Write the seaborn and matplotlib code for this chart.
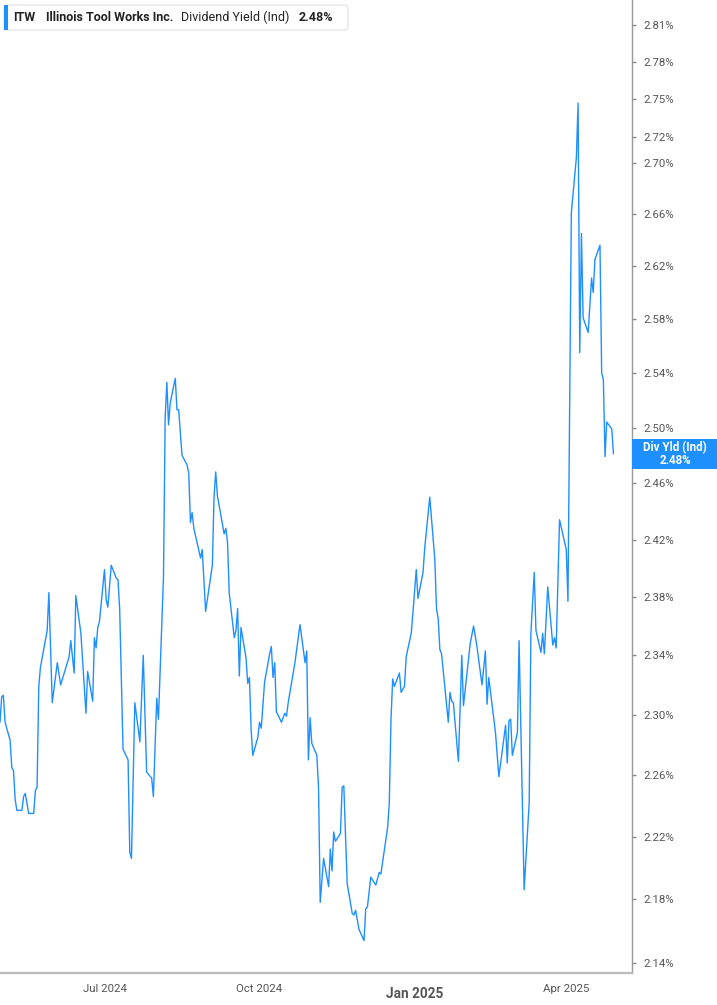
import matplotlib
matplotlib.use("Agg")
import matplotlib.pyplot as plt
import matplotlib.dates as mdates
from matplotlib.patches import Rectangle, FancyBboxPatch
from matplotlib.ticker import FixedLocator, FixedFormatter, NullLocator
import seaborn as sns
import pandas as pd

# ---------------- data ----------------
dates = [
    "2024-04-30", "2024-05-01", "2024-05-02", "2024-05-03", "2024-05-06", "2024-05-07", "2024-05-08",
    "2024-05-09", "2024-05-10", "2024-05-13", "2024-05-14", "2024-05-15", "2024-05-17", "2024-05-20",
    "2024-05-21", "2024-05-22", "2024-05-23", "2024-05-24", "2024-05-28", "2024-05-29", "2024-05-31",
    "2024-06-03", "2024-06-05", "2024-06-10", "2024-06-11", "2024-06-13", "2024-06-14", "2024-06-17",
    "2024-06-20", "2024-06-21", "2024-06-24", "2024-06-25", "2024-06-26", "2024-06-27", "2024-06-28",
    "2024-07-01", "2024-07-02", "2024-07-03", "2024-07-05", "2024-07-08", "2024-07-09", "2024-07-10",
    "2024-07-12", "2024-07-15", "2024-07-16", "2024-07-17", "2024-07-19", "2024-07-22", "2024-07-24",
    "2024-07-26", "2024-07-29", "2024-07-30", "2024-08-01", "2024-08-02", "2024-08-05", "2024-08-06",
    "2024-08-07", "2024-08-08", "2024-08-09", "2024-08-12", "2024-08-13", "2024-08-14", "2024-08-16",
    "2024-08-19", "2024-08-20", "2024-08-21", "2024-08-22", "2024-08-23", "2024-08-27", "2024-08-28",
    "2024-08-30", "2024-09-03", "2024-09-04", "2024-09-05", "2024-09-06", "2024-09-10", "2024-09-11",
    "2024-09-12", "2024-09-13", "2024-09-16", "2024-09-17", "2024-09-18", "2024-09-19", "2024-09-20",
    "2024-09-23", "2024-09-24", "2024-09-25", "2024-09-26", "2024-09-27", "2024-09-30", "2024-10-01",
    "2024-10-02", "2024-10-04", "2024-10-07", "2024-10-08", "2024-10-09", "2024-10-10", "2024-10-11",
    "2024-10-14", "2024-10-16", "2024-10-17", "2024-10-18", "2024-10-22", "2024-10-25", "2024-10-28",
    "2024-10-29", "2024-10-30", "2024-10-31", "2024-11-01", "2024-11-04", "2024-11-05", "2024-11-06",
    "2024-11-08", "2024-11-11", "2024-11-12", "2024-11-13", "2024-11-14", "2024-11-15", "2024-11-18",
    "2024-11-19", "2024-11-20", "2024-11-22", "2024-11-25", "2024-11-26", "2024-11-27", "2024-11-29",
    "2024-12-02", "2024-12-03", "2024-12-04", "2024-12-06", "2024-12-09", "2024-12-11", "2024-12-12",
    "2024-12-16", "2024-12-17", "2024-12-18", "2024-12-19", "2024-12-20", "2024-12-23", "2024-12-24",
    "2024-12-26", "2024-12-27", "2024-12-30", "2024-12-31", "2025-01-02", "2025-01-03", "2025-01-06",
    "2025-01-07", "2025-01-10", "2025-01-13", "2025-01-14", "2025-01-15", "2025-01-16", "2025-01-17",
    "2025-01-21", "2025-01-22", "2025-01-23", "2025-01-24", "2025-01-27", "2025-01-29", "2025-01-30",
    "2025-02-03", "2025-02-05", "2025-02-07", "2025-02-10", "2025-02-12", "2025-02-13", "2025-02-14",
    "2025-02-18", "2025-02-20", "2025-02-24", "2025-02-25", "2025-02-26", "2025-02-27", "2025-02-28",
    "2025-03-03", "2025-03-04", "2025-03-07", "2025-03-10", "2025-03-11", "2025-03-13", "2025-03-14",
    "2025-03-17", "2025-03-18", "2025-03-19", "2025-03-21", "2025-03-24", "2025-03-25", "2025-03-26",
    "2025-03-28", "2025-04-01", "2025-04-02", "2025-04-04", "2025-04-07", "2025-04-08", "2025-04-09",
    "2025-04-10", "2025-04-11", "2025-04-14", "2025-04-16", "2025-04-17", "2025-04-18", "2025-04-21",
    "2025-04-22", "2025-04-23", "2025-04-24", "2025-04-25", "2025-04-28", "2025-04-29",
]

div_yield = [
    2.295, 2.312, 2.313, 2.295, 2.283, 2.265, 2.263,
    2.244, 2.237, 2.237, 2.246, 2.248, 2.235, 2.235,
    2.250, 2.252, 2.319, 2.332, 2.357, 2.383, 2.308,
    2.335, 2.320, 2.339, 2.350, 2.328, 2.381, 2.355,
    2.301, 2.329, 2.309, 2.352, 2.345, 2.359, 2.363,
    2.399, 2.378, 2.373, 2.402, 2.393, 2.392, 2.372,
    2.277, 2.270, 2.210, 2.206, 2.308, 2.282, 2.340,
    2.262, 2.258, 2.246, 2.311, 2.297, 2.394, 2.507,
    2.533, 2.502, 2.518, 2.536, 2.513, 2.513, 2.480,
    2.473, 2.467, 2.432, 2.439, 2.428, 2.407, 2.413,
    2.370, 2.402, 2.450, 2.468, 2.451, 2.424, 2.428,
    2.418, 2.383, 2.352, 2.357, 2.372, 2.326, 2.359,
    2.338, 2.321, 2.325, 2.290, 2.273, 2.285, 2.295,
    2.291, 2.322, 2.341, 2.346, 2.325, 2.335, 2.302,
    2.295, 2.301, 2.299, 2.308, 2.335, 2.361, 2.335,
    2.343, 2.270, 2.298, 2.281, 2.273, 2.252, 2.178,
    2.206, 2.188, 2.212, 2.198, 2.223, 2.217, 2.222,
    2.252, 2.253, 2.190, 2.171, 2.170, 2.173, 2.161,
    2.154, 2.174, 2.175, 2.194, 2.189, 2.197, 2.196,
    2.226, 2.242, 2.297, 2.324, 2.319, 2.328, 2.315,
    2.319, 2.339, 2.355, 2.369, 2.399, 2.379, 2.397,
    2.414, 2.450, 2.406, 2.372, 2.365, 2.344, 2.341,
    2.295, 2.315, 2.309, 2.308, 2.269, 2.340, 2.306,
    2.348, 2.360, 2.346, 2.320, 2.343, 2.307, 2.325,
    2.288, 2.259, 2.293, 2.268, 2.296, 2.297, 2.273,
    2.288, 2.350, 2.186, 2.242, 2.355, 2.397, 2.357,
    2.342, 2.355, 2.341, 2.387, 2.347, 2.352, 2.345,
    2.434, 2.413, 2.377, 2.661, 2.704, 2.747, 2.555,
    2.645, 2.581, 2.570, 2.611, 2.600, 2.625, 2.636,
    2.540, 2.535, 2.479, 2.504, 2.499, 2.481,
]

ytick_values = [2.14, 2.18, 2.22, 2.26, 2.30, 2.34, 2.38, 2.42, 2.46, 2.50,
                2.54, 2.58, 2.62, 2.66, 2.70, 2.72, 2.75, 2.78, 2.81]
ytick_labels = ["2.14%", "2.18%", "2.22%", "2.26%", "2.30%", "2.34%", "2.38%", "2.42%", "2.46%", "2.50%",
                "2.54%", "2.58%", "2.62%", "2.66%", "2.70%", "2.72%", "2.75%", "2.78%", "2.81%"]
xtick_dates = ["2024-07-01", "2024-10-01", "2025-01-01", "2025-04-01"]
xtick_labels = ["Jul 2024", "Oct 2024", "Jan 2025", "Apr 2025"]

ticker = "ITW"
company = "Illinois Tool Works Inc."
metric = "Dividend Yield (Ind)"
badge_title = "Div Yld (Ind)"

df = pd.DataFrame({"date": pd.to_datetime(dates), "yield": div_yield})

# ---------------- style ----------------
sns.set_style("white")
plt.rcParams["font.family"] = ["Roboto", "DejaVu Sans"]

BLUE = "#1E8FFF"
W, H = 717, 1005
fig = plt.figure(figsize=(W / 100, H / 100), dpi=100)
ax = fig.add_axes([0, 32 / H, 632 / W, 973 / H])

sns.lineplot(data=df, x="date", y="yield", ax=ax, color=BLUE, linewidth=1.0)

ax.set_yscale("log")
ax.set_ylim(2.1338, 2.8305)
ax.set_xlim(pd.Timestamp("2024-04-30"), pd.Timestamp("2025-05-10"))

ax.yaxis.tick_right()
ax.yaxis.set_major_locator(FixedLocator(ytick_values))
ax.yaxis.set_major_formatter(FixedFormatter(ytick_labels))
ax.yaxis.set_minor_locator(NullLocator())
ax.tick_params(axis="y", which="major", direction="out", length=3, width=1,
               color="#888888", labelsize=8.2, labelcolor="#555555", pad=5)

ax.set_xticks(pd.to_datetime(xtick_dates))
ax.set_xticklabels(xtick_labels)
ax.tick_params(axis="x", direction="out", length=5, width=1, color="#999999",
               labelsize=8.2, labelcolor="#555555", pad=3)
for lab in ax.get_xticklabels():
    if lab.get_text() == "Jan 2025":
        lab.set_fontweight("bold")
        lab.set_fontsize(9.8)
        lab.set_y(-0.003)

ax.set_xlabel("")
ax.set_ylabel("")
for side in ["left", "top"]:
    ax.spines[side].set_visible(False)
ax.spines["right"].set_color("#999999")
ax.spines["right"].set_linewidth(1.0)
ax.spines["bottom"].set_color("#bbbbbb")
ax.spines["bottom"].set_linewidth(1.6)
ax.grid(False)

# ---------------- last-value badge ----------------
last_x = mdates.date2num(df["date"].iloc[-1])
last_y = df["yield"].iloc[-1]
_, ypix = ax.transData.transform((last_x, last_y))
bh = 30
fig.patches.append(Rectangle((632 / W, (ypix - bh / 2) / H), 85 / W, bh / H,
                             transform=fig.transFigure, facecolor=BLUE, edgecolor="none"))
fig.text(675 / W, (ypix + 6.5) / H, badge_title, color="white", fontsize=8.3,
         fontweight="bold", ha="center", va="center")
fig.text(675 / W, (ypix - 6.5) / H, f"{last_y:.2f}%", color="white", fontsize=8.3,
         fontweight="bold", ha="center", va="center")

# ---------------- header legend ----------------
fig.patches.append(FancyBboxPatch((4 / W, 1 - 30 / H), 344 / W, 25 / H,
                                  boxstyle="round,pad=0,rounding_size=0.004",
                                  transform=fig.transFigure, facecolor="white",
                                  edgecolor="#e6e6e6", linewidth=1.0))
fig.patches.append(Rectangle((4 / W, 1 - 30 / H), 3.5 / W, 25 / H,
                             transform=fig.transFigure, facecolor=BLUE, edgecolor="none"))
ty = 1 - 17.5 / H
fig.text(13 / W, ty, ticker, fontsize=9, fontweight="bold", color="#222222", va="center")
fig.text(46 / W, ty, company, fontsize=9, fontweight="bold", color="#222222", va="center")
fig.text(181 / W, ty, metric, fontsize=9, color="#222222", va="center")
fig.text(299 / W, ty, f"{last_y:.2f}%", fontsize=9, fontweight="bold", color="#222222", va="center")

fig.savefig("out.png", dpi=100, facecolor="white")
